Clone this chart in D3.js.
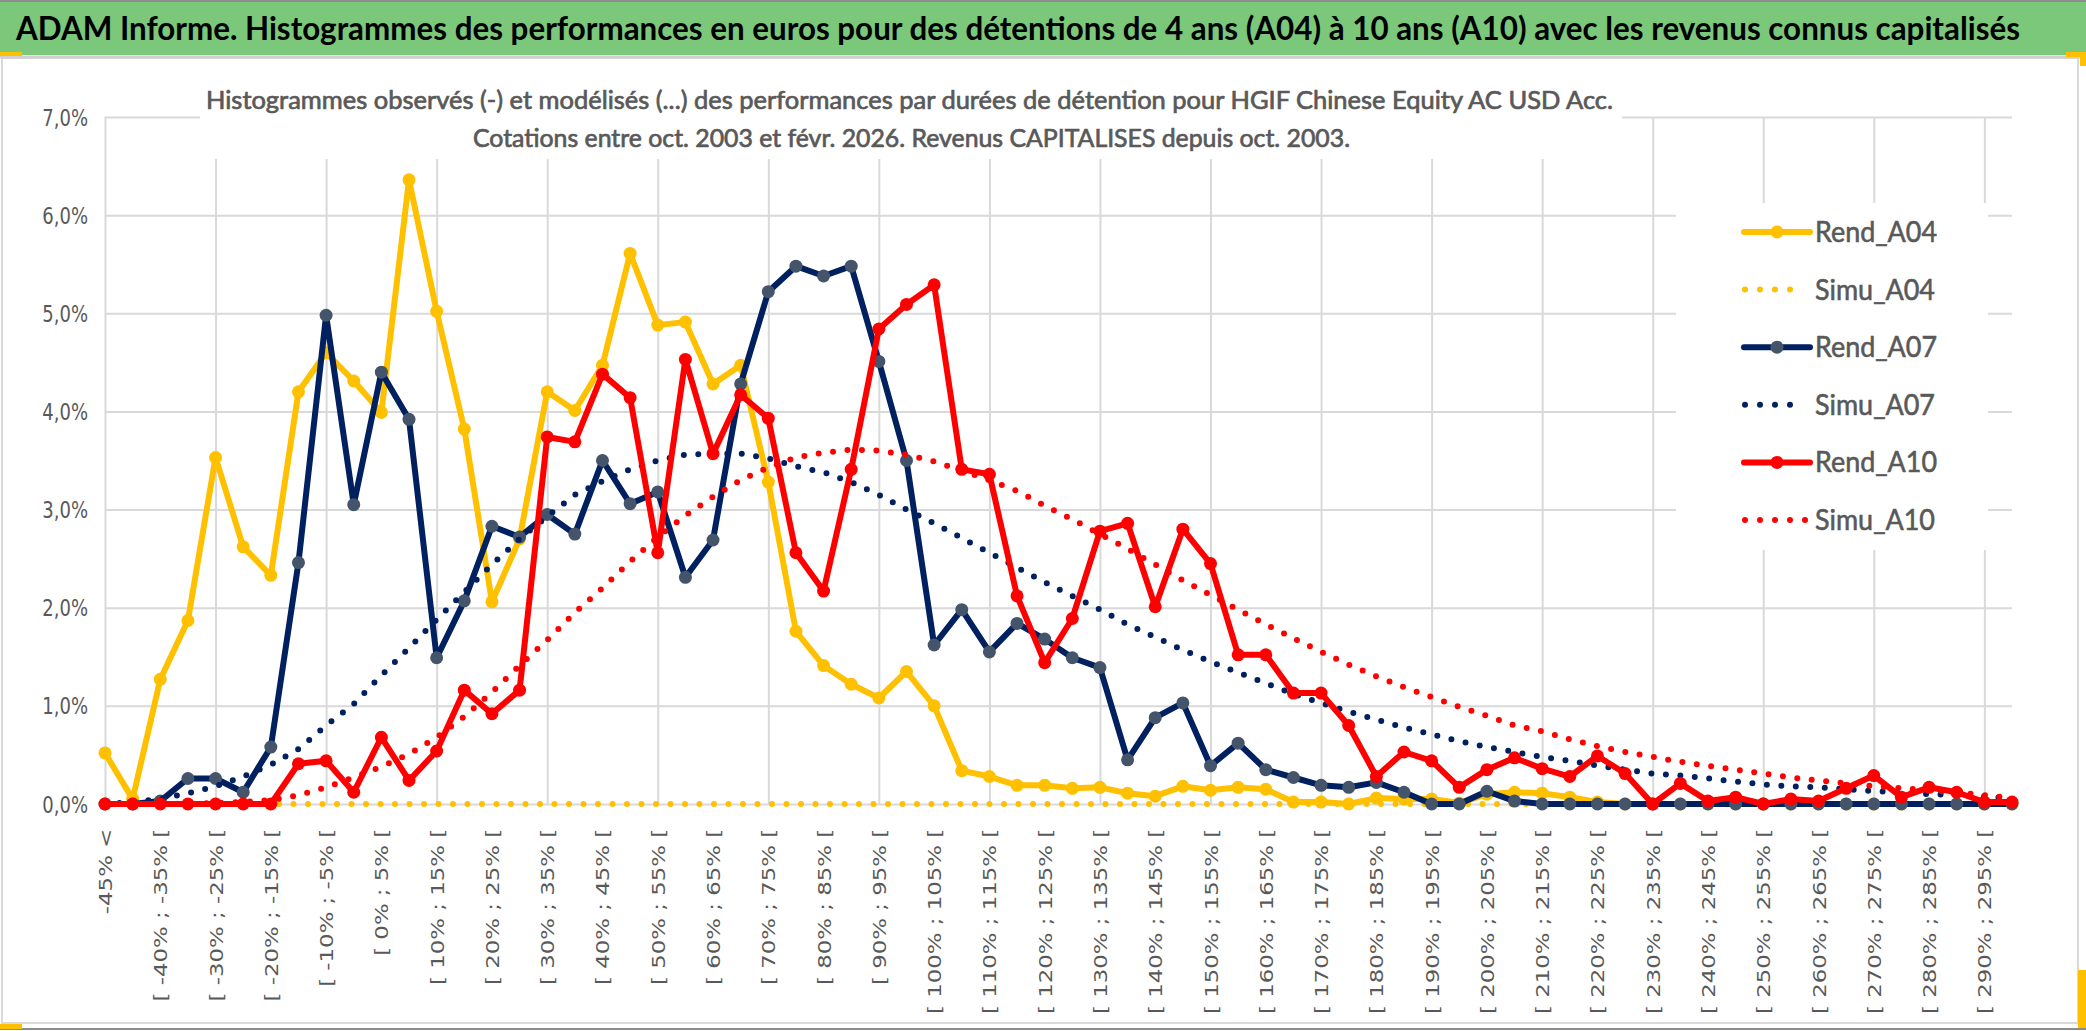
<!DOCTYPE html>
<html>
<head>
<meta charset="utf-8">
<script src="https://cdn.jsdelivr.net/npm/d3@7/dist/d3.min.js"></script>
<style>
  body { margin: 0; background: #fff; }
  svg { display: block; }
</style>
</head>
<body>
<div id="chart"></div>
<script>

// categories of the histogram (classes of performance)
var categories = [
  "-45% <",
  "[ -45% ; -40% [", "[ -40% ; -35% [", "[ -35% ; -30% [", "[ -30% ; -25% [", "[ -25% ; -20% [",
  "[ -20% ; -15% [", "[ -15% ; -10% [", "[ -10% ; -5% [", "[ -5% ; 0% [", "[ 0% ; 5% [",
  "[ 5% ; 10% [", "[ 10% ; 15% [", "[ 15% ; 20% [", "[ 20% ; 25% [", "[ 25% ; 30% [",
  "[ 30% ; 35% [", "[ 35% ; 40% [", "[ 40% ; 45% [", "[ 45% ; 50% [", "[ 50% ; 55% [",
  "[ 55% ; 60% [", "[ 60% ; 65% [", "[ 65% ; 70% [", "[ 70% ; 75% [", "[ 75% ; 80% [",
  "[ 80% ; 85% [", "[ 85% ; 90% [", "[ 90% ; 95% [", "[ 95% ; 100% [", "[ 100% ; 105% [",
  "[ 105% ; 110% [", "[ 110% ; 115% [", "[ 115% ; 120% [", "[ 120% ; 125% [", "[ 125% ; 130% [",
  "[ 130% ; 135% [", "[ 135% ; 140% [", "[ 140% ; 145% [", "[ 145% ; 150% [", "[ 150% ; 155% [",
  "[ 155% ; 160% [", "[ 160% ; 165% [", "[ 165% ; 170% [", "[ 170% ; 175% [", "[ 175% ; 180% [",
  "[ 180% ; 185% [", "[ 185% ; 190% [", "[ 190% ; 195% [", "[ 195% ; 200% [", "[ 200% ; 205% [",
  "[ 205% ; 210% [", "[ 210% ; 215% [", "[ 215% ; 220% [", "[ 220% ; 225% [", "[ 225% ; 230% [",
  "[ 230% ; 235% [", "[ 235% ; 240% [", "[ 240% ; 245% [", "[ 245% ; 250% [", "[ 250% ; 255% [",
  "[ 255% ; 260% [", "[ 260% ; 265% [", "[ 265% ; 270% [", "[ 270% ; 275% [", "[ 275% ; 280% [",
  "[ 280% ; 285% [", "[ 285% ; 290% [", "[ 290% ; 295% [", "[ 295% ; 300% ["
];

// values in %
var rendA04 = [
  0.52, 0.05, 1.27, 1.87, 3.53, 2.62, 2.33, 4.20, 4.60, 4.31,
  3.99, 6.36, 5.02, 3.82, 2.06, 2.70, 4.20, 4.01, 4.47, 5.61,
  4.88, 4.91, 4.28, 4.47, 3.28, 1.76, 1.41, 1.22, 1.08, 1.35,
  1.00, 0.34, 0.28, 0.19, 0.19, 0.16, 0.17, 0.11, 0.08, 0.18,
  0.14, 0.17, 0.15, 0.02, 0.02, 0.00, 0.06, 0.05, 0.05, 0.01,
  0.10, 0.12, 0.11, 0.07, 0.02, 0, 0, 0, 0, 0,
  0, 0, 0, 0, 0, 0, 0, 0, 0, 0
];
var simuA04 = [
  0, 0, 0, 0, 0, 0, 0, 0, 0, 0,
  0, 0, 0, 0, 0, 0, 0, 0, 0, 0,
  0, 0, 0, 0, 0, 0, 0, 0, 0, 0,
  0, 0, 0, 0, 0, 0, 0, 0, 0, 0,
  0, 0, 0, 0, 0, 0, 0, 0, 0, 0,
  0, 0, 0, 0, 0, 0, 0, 0, 0, 0,
  0, 0, 0, 0, 0, 0, 0, 0, 0, 0
];
var rendA07 = [
  0, 0, 0.03, 0.26, 0.26, 0.12, 0.58, 2.46, 4.98, 3.05,
  4.40, 3.92, 1.49, 2.07, 2.83, 2.72, 2.95, 2.75, 3.50, 3.06,
  3.18, 2.31, 2.69, 4.28, 5.22, 5.48, 5.38, 5.48, 4.51, 3.50,
  1.62, 1.98, 1.55, 1.84, 1.68, 1.49, 1.39, 0.45, 0.88, 1.03,
  0.39, 0.62, 0.35, 0.27, 0.19, 0.17, 0.22, 0.12, 0, 0,
  0.13, 0.03, 0, 0, 0, 0, 0, 0, 0, 0,
  0, 0, 0, 0, 0, 0, 0, 0, 0, 0
];
var simuA07 = [
  0, 0.02, 0.05, 0.11, 0.18, 0.28, 0.40, 0.56, 0.80, 1.02,
  1.31, 1.59, 1.88, 2.16, 2.44, 2.70, 2.93, 3.15, 3.29, 3.41,
  3.50, 3.56, 3.57, 3.57, 3.52, 3.44, 3.38, 3.28, 3.15, 3.00,
  2.86, 2.71, 2.56, 2.41, 2.26, 2.12, 1.98, 1.83, 1.70, 1.57,
  1.45, 1.34, 1.23, 1.12, 1.03, 0.94, 0.86, 0.78, 0.71, 0.64,
  0.58, 0.53, 0.48, 0.44, 0.39, 0.35, 0.31, 0.29, 0.26, 0.23,
  0.20, 0.18, 0.17, 0.15, 0.13, 0.12, 0.10, 0.09, 0.075, 0.06
];
var rendA10 = [
  0, 0, 0, 0, 0, 0, 0, 0.41, 0.44, 0.12,
  0.68, 0.24, 0.54, 1.16, 0.92, 1.16, 3.74, 3.69, 4.38, 4.14,
  2.56, 4.53, 3.57, 4.17, 3.93, 2.56, 2.17, 3.41, 4.84, 5.09,
  5.29, 3.41, 3.36, 2.12, 1.44, 1.89, 2.78, 2.86, 2.01, 2.80,
  2.45, 1.52, 1.52, 1.13, 1.13, 0.80, 0.28, 0.53, 0.44, 0.17,
  0.35, 0.47, 0.36, 0.28, 0.49, 0.31, 0, 0.21, 0.03, 0.07,
  0, 0.05, 0.03, 0.16, 0.29, 0.07, 0.17, 0.12, 0.02, 0.02
];
var simuA10 = [
  0, 0, 0, 0.005, 0.01, 0.02, 0.04, 0.09, 0.17, 0.27,
  0.38, 0.51, 0.68, 0.89, 1.14, 1.41, 1.67, 1.95, 2.20, 2.47,
  2.72, 2.94, 3.13, 3.30, 3.43, 3.53, 3.58, 3.61, 3.60, 3.56,
  3.49, 3.40, 3.30, 3.19, 3.04, 2.90, 2.75, 2.60, 2.44, 2.28,
  2.13, 1.98, 1.83, 1.69, 1.55, 1.42, 1.30, 1.19, 1.09, 0.99,
  0.90, 0.80, 0.74, 0.66, 0.59, 0.53, 0.48, 0.43, 0.39, 0.35,
  0.31, 0.27, 0.24, 0.21, 0.18, 0.16, 0.14, 0.12, 0.09, 0.06
];

var yTicks = [0, 1, 2, 3, 4, 5, 6, 7];
var seriesNames = ["Rend_A04", "Simu_A04", "Rend_A07", "Simu_A07", "Rend_A10", "Simu_A10"];

var mainTitle = "ADAM Informe. Histogrammes des performances en euros pour des détentions de 4 ans (A04) à 10 ans (A10) avec les revenus connus capitalisés";
var chartTitle1 = "Histogrammes observés (-) et modélisés (...) des performances par durées de détention pour HGIF Chinese Equity AC USD Acc.";
var chartTitle2 = "Cotations entre oct. 2003 et févr. 2026. Revenus CAPITALISES depuis oct. 2003.";

var W = 2086, H = 1031;
var PLOT_LEFT = 105, PLOT_RIGHT = 2012, PLOT_TOP = 117, PLOT_BOTTOM = 804;
var GRID = "#d9d9d9";
var TXT = "#595959";
var YELLOW = "#ffc000", NAVY = "#002060", RED = "#ff0000", SLATE = "#44546a";
var LINE_W = 6, MARK_R = 6.5;
var DOT_W = 6, DOT_DASH = "0 14.5";
var SANS = "Lato, 'Noto Sans', sans-serif";
var AXIS_FONT = "'DejaVu Sans', Verdana, sans-serif";

var series = [
  {name: seriesNames[0], values: rendA04, color: YELLOW, marker: YELLOW, dotted: false},
  {name: seriesNames[1], values: simuA04, color: YELLOW, dotted: true},
  {name: seriesNames[2], values: rendA07, color: NAVY, marker: SLATE, dotted: false},
  {name: seriesNames[3], values: simuA07, color: NAVY, dotted: true},
  {name: seriesNames[4], values: rendA10, color: RED, marker: RED, dotted: false},
  {name: seriesNames[5], values: simuA10, color: RED, dotted: true}
];

var svg = d3.select("#chart").append("svg")
  .attr("width", W)
  .attr("height", H);

// frame of the chart object
svg.append("rect").attr("x", 0).attr("y", 0).attr("width", W).attr("height", H).attr("fill", "#fff");
svg.append("rect")
  .attr("x", 2).attr("y", 58).attr("width", 2076).attr("height", 965)
  .attr("fill", "#fff").attr("stroke", GRID).attr("stroke-width", 2);
svg.append("line").attr("x1", 0).attr("x2", W).attr("y1", 1029).attr("y2", 1029)
  .attr("stroke", "#8c8c8c").attr("stroke-width", 2);

// green banner
svg.append("rect").attr("x", 0).attr("y", 0).attr("width", W).attr("height", 55).attr("fill", "#7bc87b");
svg.append("line").attr("x1", 0).attr("x2", W).attr("y1", 1).attr("y2", 1).attr("stroke", "#8c8c8c").attr("stroke-width", 2);
svg.append("line").attr("x1", 0).attr("x2", W).attr("y1", 57).attr("y2", 57).attr("stroke", "#d0d0d0").attr("stroke-width", 3);
svg.append("text")
  .attr("x", 16).attr("y", 40)
  .attr("font-family", SANS)
  .attr("font-weight", "bold")
  .attr("font-size", 32)
  .attr("fill", "#000")
  .attr("textLength", 2004)
  .attr("lengthAdjust", "spacingAndGlyphs")
  .text(mainTitle);

// selection handles (yellow bits on the corners)
svg.append("rect").attr("x", 0).attr("y", 52).attr("width", 22).attr("height", 4).attr("fill", YELLOW);
svg.append("rect").attr("x", 2066).attr("y", 52).attr("width", 20).attr("height", 5).attr("fill", YELLOW);
svg.append("rect").attr("x", 2080).attr("y", 52).attr("width", 6).attr("height", 14).attr("fill", YELLOW);
svg.append("rect").attr("x", 0).attr("y", 1024).attr("width", 22).attr("height", 5).attr("fill", YELLOW);
svg.append("rect").attr("x", 2078).attr("y", 970).attr("width", 8).attr("height", 58).attr("fill", YELLOW);

// scales
var x = d3.scalePoint().domain(categories).range([PLOT_LEFT, PLOT_RIGHT]);
var y = d3.scaleLinear().domain([0, 7]).range([PLOT_BOTTOM, PLOT_TOP]);

// gridlines
var gridY = svg.append("g")
  .attr("transform", "translate(" + PLOT_LEFT + ",0)")
  .call(d3.axisLeft(y).tickValues(yTicks).tickSize(-(PLOT_RIGHT - PLOT_LEFT)).tickFormat(""));
gridY.select(".domain").remove();
gridY.selectAll("line").attr("stroke", GRID).attr("stroke-width", 2);

var gridX = svg.append("g")
  .attr("transform", "translate(0," + PLOT_BOTTOM + ")")
  .call(d3.axisBottom(x)
    .tickValues(categories.filter(function(d, i) { return i % 4 == 0; }))
    .tickSize(-(PLOT_BOTTOM - PLOT_TOP)).tickFormat(""));
gridX.select(".domain").remove();
gridX.selectAll("line").attr("stroke", GRID).attr("stroke-width", 2);

// title and legend boxes hide the grid behind them
svg.append("rect").attr("x", 200).attr("y", 68).attr("width", 1422).attr("height", 91).attr("fill", "#fff");
svg.append("rect").attr("x", 1676).attr("y", 203).attr("width", 312).attr("height", 347).attr("fill", "#fff");

svg.append("text")
  .attr("x", 206).attr("y", 109)
  .attr("font-family", SANS)
  .attr("font-size", 25)
  .attr("fill", TXT)
  .attr("stroke", TXT).attr("stroke-width", 0.7)
  .attr("textLength", 1407)
  .attr("lengthAdjust", "spacingAndGlyphs")
  .text(chartTitle1);
svg.append("text")
  .attr("x", 473).attr("y", 147)
  .attr("font-family", SANS)
  .attr("font-size", 25)
  .attr("fill", TXT)
  .attr("stroke", TXT).attr("stroke-width", 0.7)
  .attr("textLength", 877)
  .attr("lengthAdjust", "spacingAndGlyphs")
  .text(chartTitle2);

// y axis labels
var yAxis = svg.append("g")
  .attr("transform", "translate(" + PLOT_LEFT + ",0)")
  .call(d3.axisLeft(y).tickValues(yTicks).tickSize(0).tickPadding(17)
    .tickFormat(function(d) { return d3.format(".1f")(d).replace(".", ",") + "%"; }));
yAxis.select(".domain").remove();
yAxis.selectAll("text")
  .attr("font-family", AXIS_FONT)
  .attr("font-size", 18)
  .attr("fill", TXT)
  .attr("dy", "0.36em")
  .attr("transform", "scale(1,1.25)");

// x axis labels, every other class, rotated
var xAxis = svg.append("g")
  .attr("transform", "translate(0," + PLOT_BOTTOM + ")")
  .call(d3.axisBottom(x)
    .tickValues(categories.filter(function(d, i) { return i % 2 == 0; }))
    .tickSize(0));
xAxis.select(".domain").remove();
xAxis.selectAll("text")
  .attr("font-family", AXIS_FONT)
  .attr("font-size", 18)
  .attr("fill", TXT)
  .attr("text-anchor", "end")
  .attr("x", -19.5)
  .attr("y", 0)
  .attr("dy", "0.36em")
  .attr("transform", "rotate(-90) scale(1.27,1)");

// series
var line = d3.line()
  .x(function(d, i) { return x(categories[i]); })
  .y(function(d) { return y(d); });

series.forEach(function(s) {
  var g = svg.append("g").attr("class", "serie");
  g.append("path")
    .datum(s.values)
    .attr("d", line)
    .attr("fill", "none")
    .attr("stroke", s.color)
    .attr("stroke-width", s.dotted ? DOT_W : LINE_W)
    .attr("stroke-linejoin", "round")
    .attr("stroke-linecap", "round")
    .attr("stroke-dasharray", s.dotted ? DOT_DASH : null);
  if (!s.dotted) {
    g.selectAll("circle").data(s.values).enter().append("circle")
      .attr("cx", function(d, i) { return x(categories[i]); })
      .attr("cy", function(d) { return y(d); })
      .attr("r", MARK_R)
      .attr("fill", s.marker);
  }
});

// legend
var LEG_Y0 = 232, LEG_STEP = 57.6;
var legend = svg.append("g");
series.forEach(function(s, i) {
  var cy = LEG_Y0 + i * LEG_STEP;
  if (s.dotted) {
    legend.append("line")
      .attr("x1", 1745).attr("x2", s.name == "Simu_A10" ? 1806 : 1793)
      .attr("y1", cy).attr("y2", cy)
      .attr("stroke", s.color).attr("stroke-width", DOT_W)
      .attr("stroke-linecap", "round")
      .attr("stroke-dasharray", "0 15");
  } else {
    legend.append("line")
      .attr("x1", 1744).attr("x2", 1810)
      .attr("y1", cy).attr("y2", cy)
      .attr("stroke", s.color).attr("stroke-width", LINE_W)
      .attr("stroke-linecap", "round");
    legend.append("circle").attr("cx", 1777).attr("cy", cy).attr("r", MARK_R).attr("fill", s.marker);
  }
  legend.append("text")
    .attr("x", 1815).attr("y", cy + 10)
    .attr("font-family", SANS)
    .attr("font-size", 29)
    .attr("fill", TXT)
    .attr("stroke", TXT).attr("stroke-width", 0.6)
    .attr("textLength", s.dotted ? 120 : 122)
    .attr("lengthAdjust", "spacingAndGlyphs")
    .text(s.name);
});

</script>
</body>
</html>
